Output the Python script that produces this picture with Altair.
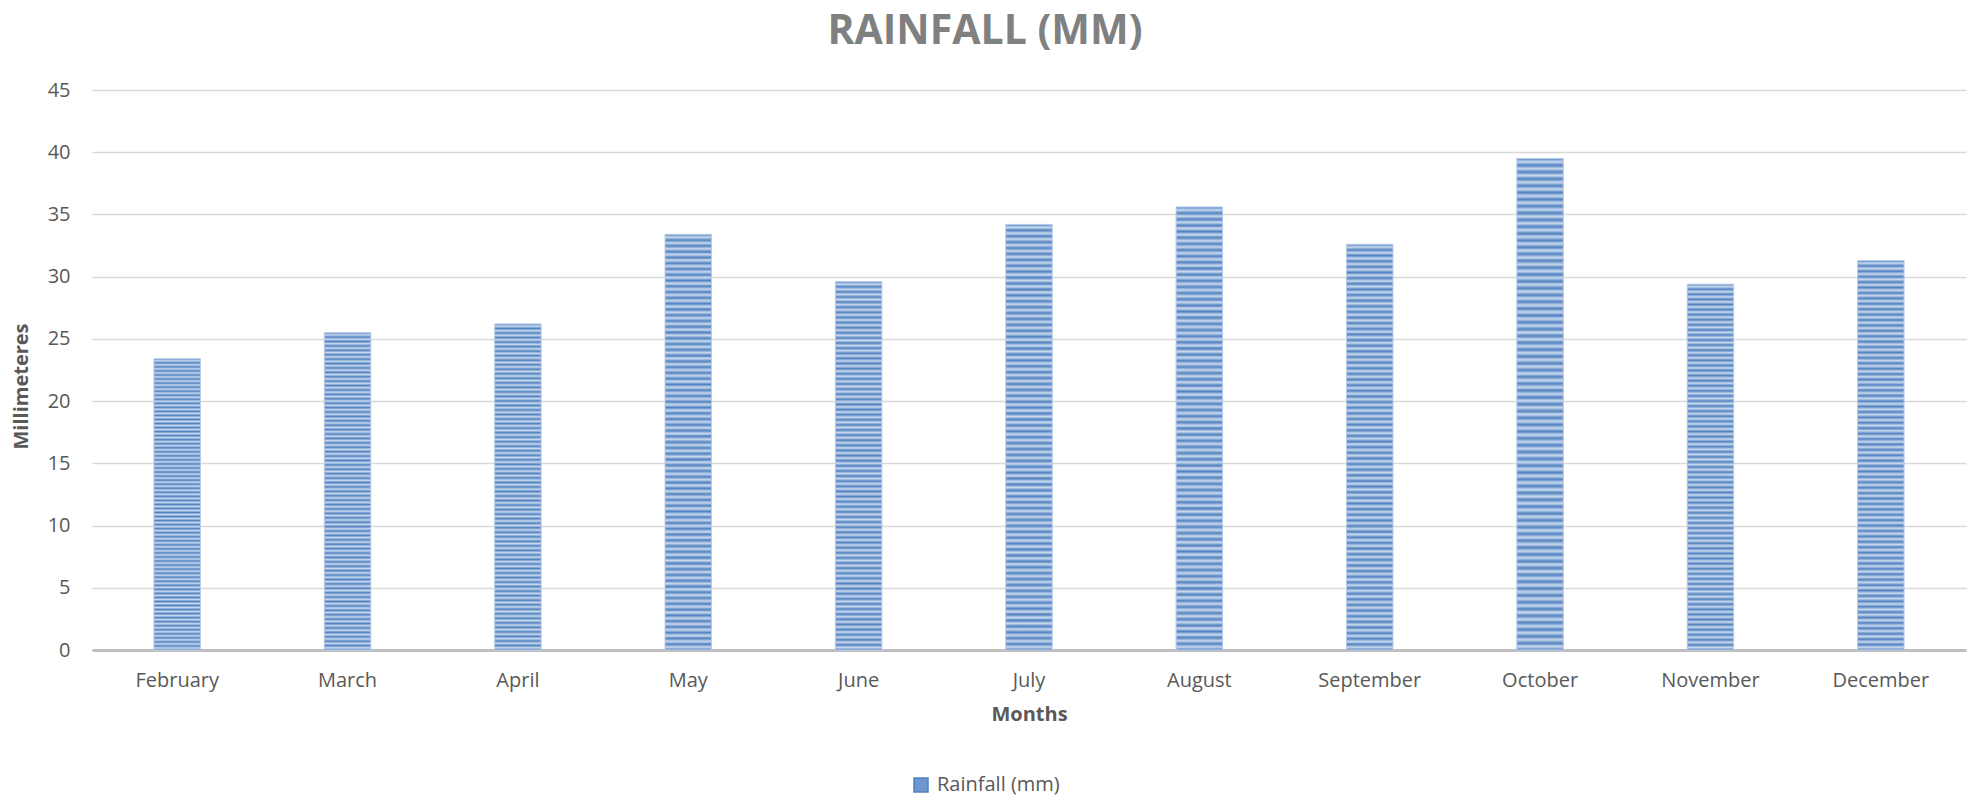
import altair as alt
import pandas as pd

months = ["February", "March", "April", "May", "June", "July", "August",
          "September", "October", "November", "December"]
rainfall = [23.4, 25.5, 26.2, 33.4, 29.6, 34.2, 35.6, 32.6, 39.5, 29.4, 31.3]
series = ["Rainfall (mm)"] * len(months)
y_ticks = [0, 5, 10, 15, 20, 25, 30, 35, 40, 45]

df = pd.DataFrame({"Month": months, "Rainfall": rainfall, "Series": series})

FONT = "Open Sans"
LABEL = "#595959"
DARK = "#5282c0"
LIGHT = "#c8d9ef"

# soft narrow horizontal stripe fill (style only)
N_STRIPES = 72
stops = []
for i in range(N_STRIPES):
    a = i / N_STRIPES
    m = (i + 0.5) / N_STRIPES
    stops += [{"offset": a, "color": DARK}, {"offset": m, "color": LIGHT}]
stops.append({"offset": 1.0, "color": DARK})
stripes = alt.LinearGradient(gradient="linear", x1=0, y1=0, x2=0, y2=1,
                             stops=[alt.GradientStop(**s) for s in stops])

x_enc = alt.X("Month:N", sort=months,
              scale=alt.Scale(paddingInner=0.727, paddingOuter=0.3635),
              axis=alt.Axis(title="Months", labelAngle=0, ticks=False,
                            labelPadding=20, titlePadding=14,
                            domainColor="#bfbfbf", domainWidth=3,
                            labelFont=FONT, labelFontSize=20, labelColor=LABEL,
                            titleFont=FONT, titleFontSize=20, titleFontWeight="bold",
                            titleColor=LABEL))
y_enc = alt.Y("Rainfall:Q", scale=alt.Scale(domain=[0, 45], nice=False),
              axis=alt.Axis(title="Millimeteres", values=y_ticks, ticks=False,
                            domain=False, labelPadding=22, titlePadding=16,
                            gridColor="#d9d9d9", gridWidth=1.5,
                            labelFont=FONT, labelFontSize=20, labelColor=LABEL,
                            titleFont=FONT, titleFontSize=20, titleFontWeight="bold",
                            titleColor=LABEL, titleY=296))

bars = alt.Chart(df).mark_bar(
    color=stripes, stroke="#b7cbe8", strokeWidth=1
).encode(x=x_enc, y=y_enc)

legend_layer = alt.Chart(df).mark_bar(opacity=0).encode(
    x=alt.X("Month:N", sort=months),
    y=alt.Y("Rainfall:Q"),
    color=alt.Color("Series:N",
                    scale=alt.Scale(range=["#6f97cf"]),
                    legend=alt.Legend(title=None, orient="none",
                                      legendX=819, legendY=685,
                                      symbolType="square", symbolSize=196,
                                      symbolOpacity=1,
                                      symbolStrokeColor="#4f81bd",
                                      labelOffset=6,
                                      labelFont=FONT, labelFontSize=20,
                                      labelColor=LABEL)),
)

chart = alt.layer(bars, legend_layer).properties(
    width=1874,
    height=560,
    title=alt.TitleParams("RAINFALL (MM)", font=FONT, fontSize=41,
                          fontWeight="bold", color="#808080",
                          anchor="middle", offset=27, dx=-44),
    autosize=alt.AutoSizeParams(type="none"),
    padding={"left": 92, "top": 90, "right": 5, "bottom": 150},
).configure_view(stroke=None)

chart.save("out.html", embed_options={"renderer": "svg", "actions": False})
